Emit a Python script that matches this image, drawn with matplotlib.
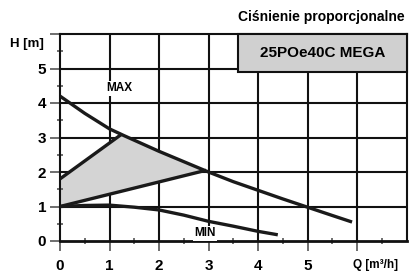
import matplotlib
matplotlib.use("Agg")
import matplotlib.pyplot as plt
import numpy as np

plt.rcParams['font.family'] = ['Liberation Sans', 'DejaVu Sans']
plt.rcParams['font.weight'] = 'bold'

# Data
max_q = [0.0, 0.5, 1.0, 1.3, 2.0, 2.5, 3.0, 3.5, 4.0, 4.5, 5.0, 5.5, 5.9]
max_h = [4.2, 3.7, 3.25, 3.05, 2.6, 2.3, 2.0, 1.72, 1.47, 1.22, 0.98, 0.74, 0.55]
min_q = [0.0, 0.5, 1.0, 1.5, 2.0, 2.5, 3.0, 3.5, 4.0, 4.4]
min_h = [1.0, 1.03, 1.04, 0.98, 0.9, 0.75, 0.57, 0.43, 0.28, 0.18]
prop_hi_q = [0.0, 1.25]
prop_hi_h = [1.8, 3.1]
prop_lo_q = [0.0, 2.95]
prop_lo_h = [1.0, 2.05]
x_ticks = [0, 1, 2, 3, 4, 5]
y_ticks = [0, 1, 2, 3, 4, 5]

fig = plt.figure(figsize=(4.09, 2.75), dpi=100)
ax = fig.add_axes([60/409, 1-241/275, (406.5-60)/409, (241-34)/275])
ax.set_xlim(0, 7)
ax.set_ylim(0, 6)

# grid
for v in range(1, 7):
    ax.axvline(v, color='#111111', lw=1.5, zorder=1)
for v in range(1, 6):
    ax.axhline(v, color='#111111', lw=1.5, zorder=1)

# shaded region
mq = np.array(max_q); mh = np.array(max_h)
sel = (mq > prop_hi_q[1]) & (mq < prop_lo_q[1])
poly_x = [prop_lo_q[0], prop_hi_q[0], prop_hi_q[1]] + list(mq[sel]) + [prop_lo_q[1]]
poly_y = [prop_lo_h[0], prop_hi_h[0], prop_hi_h[1]] + list(mh[sel]) + [prop_lo_h[1]]
ax.fill(poly_x, poly_y, color='#d4d4d4', zorder=1.5, lw=0)

lw = 2.4
ax.plot(max_q, max_h, color='#1a1a1a', lw=lw, zorder=3, solid_capstyle='butt')
ax.plot(min_q, min_h, color='#1a1a1a', lw=lw, zorder=3, solid_capstyle='butt')
ax.plot(prop_hi_q, prop_hi_h, color='#1a1a1a', lw=lw, zorder=3, solid_capstyle='butt')
ax.plot(prop_lo_q, prop_lo_h, color='#1a1a1a', lw=lw, zorder=3, solid_capstyle='butt')

# spines
for s in ax.spines.values():
    s.set_linewidth(1.5)
    s.set_color('#111111')
ax.spines['bottom'].set_linewidth(2.0)

ax.set_xticks(x_ticks + [6])
ax.set_xticklabels([str(t) for t in x_ticks] + [''])
ax.set_yticks(y_ticks + [6])
ax.set_yticklabels([str(t) for t in y_ticks] + [''])
ax.set_xticks(np.arange(0.5, 7, 0.5), minor=True)
ax.set_yticks(np.arange(0.5, 6, 0.5), minor=True)
ax.tick_params(axis='both', which='major', direction='out', length=7, width=1.2,
               color='#555555', labelsize=11, pad=3)
ax.tick_params(axis='x', which='major', pad=6)
ax.tick_params(axis='both', which='minor', direction='inout', length=5, width=1.2,
               color='#555555')
for lab in ax.get_xticklabels() + ax.get_yticklabels():
    lab.set_fontweight('bold')

# labels
fig.text(44/409, 1-44/275, 'H [m]', ha='right', va='center', fontsize=9.5, fontweight='bold')
fig.text(353/409, 1-265/275, 'Q [m³/h]', ha='left', va='center', fontsize=8.5, fontweight='bold')
fig.text(405/409, 1-17/275, 'Ciśnienie proporcjonalne', ha='right', va='center',
         fontsize=10, fontweight='bold')

# product box
ax.add_patch(plt.Rectangle((3.6, 4.9), 3.4, 1.1, facecolor='#d0d0d0', edgecolor='#111111',
                           lw=1.5, zorder=4, clip_on=False))
ax.text(5.3, 5.45, '25POe40C MEGA', ha='center', va='center', fontsize=11,
        fontweight='bold', zorder=5)

ax.text(1.2, 4.43, 'MAX', ha='center', va='center', fontsize=8.5, fontweight='bold',
        zorder=5, bbox=dict(facecolor='white', edgecolor='none', pad=1))
ax.text(2.93, 0.22, 'MIN', ha='center', va='center', fontsize=8.5, fontweight='bold',
        zorder=5, bbox=dict(facecolor='white', edgecolor='none', pad=1))

fig.savefig('out.png', dpi=100)
